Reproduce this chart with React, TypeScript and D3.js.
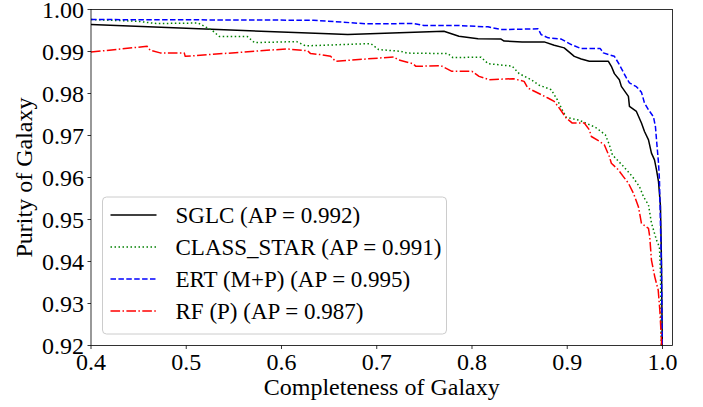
import * as d3 from "d3";
import * as React from "react";

// precision-recall curves, values
const sglcRecall = [0.4, 0.6495, 0.6695, 0.7705, 0.7863, 0.8063, 0.8305, 0.8337, 0.8526, 0.8758, 0.8863, 0.8968, 0.9074, 0.9147, 0.9232, 0.9432, 0.9463, 0.9495, 0.9547, 0.9568, 0.9642, 0.9653, 0.9726, 0.9779, 0.9811, 0.9853, 0.9884, 0.9916, 0.9937, 0.9958, 0.9979, 0.9989, 1.0];
const sglcPrecision = [0.99642, 0.9942, 0.99403, 0.99482, 0.99363, 0.99303, 0.99296, 0.99248, 0.99229, 0.99229, 0.99148, 0.99086, 0.98885, 0.98823, 0.98766, 0.98766, 0.98647, 0.98473, 0.98329, 0.98169, 0.97931, 0.97692, 0.97573, 0.97296, 0.97095, 0.96897, 0.9658, 0.9642, 0.96181, 0.95902, 0.95306, 0.94033, 0.915];

const classStarRecall = [0.4, 0.4484, 0.4684, 0.5126, 0.5189, 0.5274, 0.5347, 0.5642, 0.5716, 0.6158, 0.6253, 0.6937, 0.7021, 0.7253, 0.7316, 0.7747, 0.78, 0.8095, 0.8168, 0.8421, 0.8495, 0.8621, 0.8705, 0.8832, 0.8895, 0.8947, 0.8989, 0.9126, 0.9295, 0.94, 0.9442, 0.9474, 0.9589, 0.9684, 0.9758, 0.98, 0.9853, 0.9884, 0.9937, 0.9968, 0.9979, 0.9989];
const classStarPrecision = [0.99761, 0.99721, 0.99666, 0.99678, 0.99601, 0.99499, 0.99356, 0.99356, 0.99212, 0.99236, 0.99134, 0.99189, 0.99045, 0.99005, 0.98962, 0.9895, 0.98854, 0.98866, 0.98711, 0.98652, 0.98473, 0.98329, 0.98198, 0.98091, 0.97852, 0.97613, 0.97434, 0.97363, 0.97196, 0.97017, 0.96778, 0.96539, 0.96265, 0.96022, 0.95783, 0.95544, 0.95346, 0.94916, 0.94511, 0.94344, 0.93723, 0.915];

const ertRecall = [0.4, 0.6337, 0.6653, 0.6884, 0.7389, 0.7495, 0.7853, 0.8168, 0.8305, 0.8695, 0.8726, 0.88, 0.8937, 0.9042, 0.9147, 0.9347, 0.9379, 0.9495, 0.9547, 0.9621, 0.9653, 0.9726, 0.9779, 0.9811, 0.9853, 0.9905, 0.9926, 0.9937, 0.9958, 0.9968, 0.9989, 1.0];
const ertPrecision = [0.99761, 0.99745, 0.99697, 0.99659, 0.99666, 0.99618, 0.99618, 0.99587, 0.99523, 0.99539, 0.99403, 0.99325, 0.99296, 0.99165, 0.99069, 0.99069, 0.98967, 0.98885, 0.98687, 0.9837, 0.98251, 0.98162, 0.98031, 0.97773, 0.97613, 0.97446, 0.97208, 0.96897, 0.96348, 0.95943, 0.93866, 0.915];

const rfRecall = [0.4, 0.4589, 0.4621, 0.4726, 0.4979, 0.4989, 0.6053, 0.6274, 0.6305, 0.6411, 0.6516, 0.6568, 0.7179, 0.7221, 0.7379, 0.7411, 0.7674, 0.7789, 0.8, 0.8074, 0.8179, 0.8432, 0.8547, 0.8586, 0.8692, 0.8797, 0.8863, 0.8916, 0.8989, 0.9053, 0.9179, 0.9232, 0.9253, 0.9337, 0.9389, 0.9442, 0.9463, 0.9537, 0.9589, 0.9642, 0.9695, 0.9747, 0.9779, 0.9853, 0.9866, 0.9884, 0.9919, 0.9955, 0.9972, 0.9989, 0.9995];
const rfPrecision = [0.98986, 0.99124, 0.99029, 0.98967, 0.98967, 0.98885, 0.99062, 0.99017, 0.9895, 0.98926, 0.98885, 0.98766, 0.98871, 0.98807, 0.98711, 0.98647, 0.98663, 0.98527, 0.98527, 0.98408, 0.98329, 0.98353, 0.98289, 0.98131, 0.98012, 0.97893, 0.97811, 0.97654, 0.97415, 0.97296, 0.97296, 0.97136, 0.96976, 0.96862, 0.96778, 0.96499, 0.96341, 0.96181, 0.96022, 0.95864, 0.95625, 0.95306, 0.94909, 0.9479, 0.94589, 0.94033, 0.93635, 0.93317, 0.9284, 0.92124, 0.915];

const xTicks = [0.4, 0.5, 0.6, 0.7, 0.8, 0.9, 1.0];
const yTicks = [0.92, 0.93, 0.94, 0.95, 0.96, 0.97, 0.98, 0.99, 1.0];

const series = [
  { label: "SGLC (AP = 0.992)", x: sglcRecall, y: sglcPrecision, color: "#000000", dash: "" },
  { label: "CLASS_STAR (AP = 0.991)", x: classStarRecall, y: classStarPrecision, color: "#008000", dash: "1.5,2.5" },
  { label: "ERT (M+P) (AP = 0.995)", x: ertRecall, y: ertPrecision, color: "#0000ff", dash: "5.5,2.4" },
  { label: "RF (P) (AP = 0.987)", x: rfRecall, y: rfPrecision, color: "#ff0000", dash: "9.6,2.4,1.5,2.4" },
];

const W = 703;
const H = 407;
const left = 91, right = 672.5, top = 9.5, bottom = 345.5;
const font = "'Liberation Serif', 'DejaVu Serif', serif";

export default function App() {
  const x = d3.scaleLinear().domain([0.4, 1.0105]).range([left, right]);
  const y = d3.scaleLinear().domain([0.92, 1.0]).range([bottom, top]);
  const line = d3.line<[number, number]>().x(d => x(d[0])).y(d => y(d[1]));

  const legX = 102.5, legY = 197, legW = 344, legH = 137;
  const rowY = (i: number) => 215 + i * 32;

  return (
    <svg width={W} height={H} style={{ position: "absolute", left: 0, top: 0, background: "#fff" }} fontFamily={font}>
      <defs>
        <clipPath id="plot">
          <rect x={left} y={top} width={right - left} height={bottom - top} />
        </clipPath>
      </defs>
      <rect x={0} y={0} width={W} height={H} fill="#fff" />
      <g clipPath="url(#plot)">
        {series.map(s => (
          <path
            key={s.label}
            d={line(s.x.map((v, i) => [v, s.y[i]] as [number, number])) || ""}
            fill="none"
            stroke={s.color}
            strokeWidth={1.5}
            strokeDasharray={s.dash || undefined}
            strokeLinejoin="round"
          />
        ))}
      </g>
      <rect x={left} y={top} width={right - left} height={bottom - top} fill="none" stroke="#000" strokeWidth={0.8} />
      {xTicks.map(t => (
        <g key={"x" + t}>
          <line x1={x(t)} x2={x(t)} y1={bottom} y2={bottom + 3.5} stroke="#000" strokeWidth={0.8} />
          <text x={x(t)} y={bottom + 24} textAnchor="middle" fontSize={24}>{t.toFixed(1)}</text>
        </g>
      ))}
      {yTicks.map(t => (
        <g key={"y" + t}>
          <line x1={left - 3.5} x2={left} y1={y(t)} y2={y(t)} stroke="#000" strokeWidth={0.8} />
          <text x={left - 7} y={y(t) + 8} textAnchor="end" fontSize={24}>{t.toFixed(2)}</text>
        </g>
      ))}
      <text x={(left + right) / 2} y={395} textAnchor="middle" fontSize={24}>Completeness of Galaxy</text>
      <text transform={`translate(32,${(top + bottom) / 2}) rotate(-90)`} textAnchor="middle" fontSize={24}>Purity of Galaxy</text>
      <rect x={legX} y={legY} width={legW} height={legH} rx={4} fill="#fff" fillOpacity={0.8} stroke="#cccccc" strokeWidth={1} />
      {series.map((s, i) => (
        <g key={"leg" + i}>
          <line x1={110.5} x2={156.5} y1={rowY(i)} y2={rowY(i)} stroke={s.color} strokeWidth={1.5} strokeDasharray={s.dash || undefined} />
          <text x={175.5} y={rowY(i) + 8} fontSize={23}>{s.label}</text>
        </g>
      ))}
    </svg>
  );
}
